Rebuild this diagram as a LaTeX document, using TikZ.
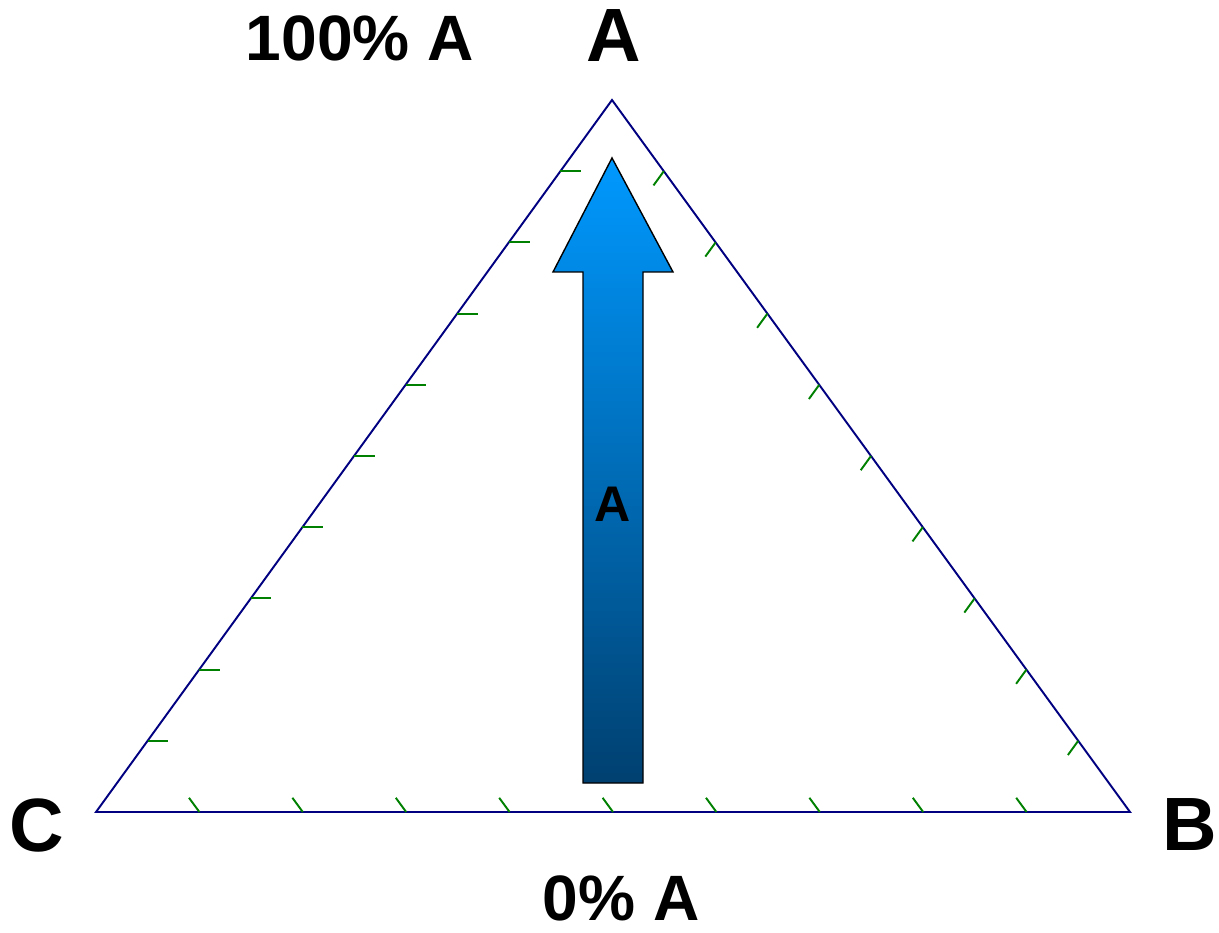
\documentclass[tikz,border=0pt]{standalone}
\usepackage{fontspec}
\setmainfont{Liberation Sans}
\usetikzlibrary{positioning,calc}
\definecolor{edgeblue}{RGB}{0,0,128}
\definecolor{tickgreen}{RGB}{0,128,0}
\definecolor{arrowtop}{RGB}{0,153,255}
\definecolor{arrowbot}{RGB}{0,64,112}
\tikzset{
  edgeline/.style={draw=edgeblue, line width=1.1pt},
  scaletick/.style={draw=tickgreen, line width=1.1pt},
  cornerlbl/.style={inner sep=0pt, font=\fontsize{43}{43}\selectfont\bfseries},
  pctlbl/.style={inner sep=0pt, font=\fontsize{36.5}{36.5}\selectfont\bfseries},
  arrowlbl/.style={inner sep=0pt, font=\fontsize{28.5}{28.5}\selectfont\bfseries}
}

\begin{document}
\begin{tikzpicture}[x=0.02cm,y=-0.02cm]
\useasboundingbox (0,0) rectangle (1219,932);
% corners
\coordinate (A) at (612,100);
\coordinate (B) at (1130,812);
\coordinate (C) at (96,812);
\draw[edgeline] (A) -- (B) -- (C) -- cycle;
% scale ticks at every 10%
\foreach \k in {1,...,9} {
  \draw[scaletick] ($(C)!\k/10!(A)$) -- ++(20.7,0);
  \draw[scaletick] ($(C)!\k/10!(B)$) -- ++(-10.4,-14.2);
  \draw[scaletick] ($(B)!\k/10!(A)$) -- ++(-10.3,14.2);
}
% arrow
\draw[black, line width=0.8pt, top color=arrowtop, bottom color=arrowbot]
  (612,158) -- (673,272) -- (643,272) -- (643,783) -- (583,783)
  -- (583,272) -- (553,272) -- cycle;
\node[arrowlbl] (arrA) at (613,504) {A};
% labels
\node[cornerlbl] (lblA) at (614,36) {A};
\node[cornerlbl] (lblB) at (1190,825) {B};
\node[cornerlbl] (lblC) at (37,825) {C};
\node[pctlbl] (top) at (360,38) {100\% A};
\node[pctlbl] (bottom) at (621,898) {0\% A};
\end{tikzpicture}
\end{document}
